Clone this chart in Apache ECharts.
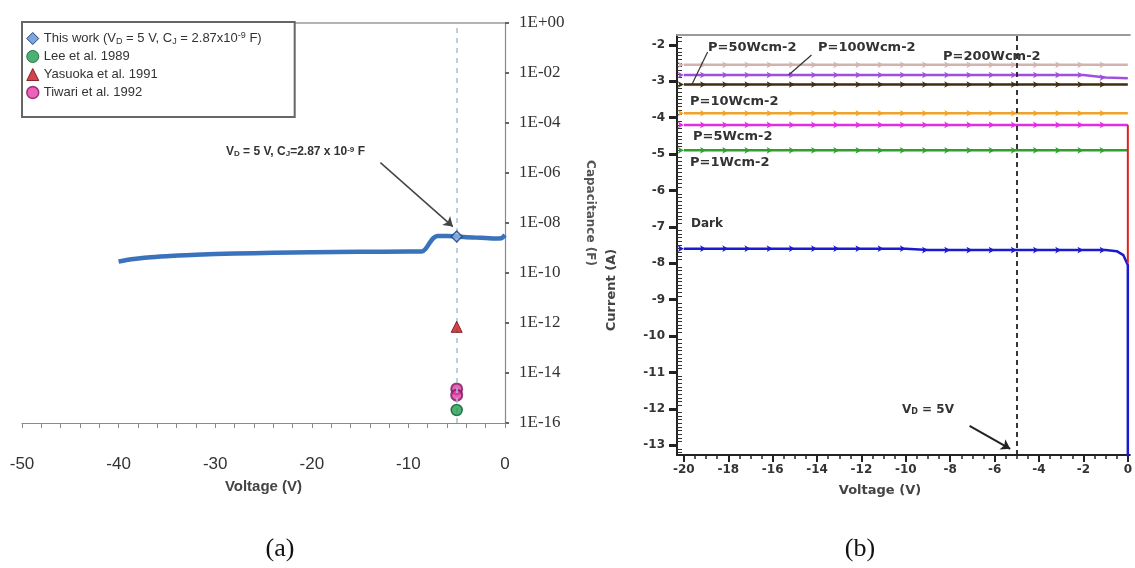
<!DOCTYPE html>
<html>
<head>
<meta charset="utf-8">
<script src="https://cdn.jsdelivr.net/npm/echarts@6.0.0/dist/echarts.min.js"></script>
<style>
html,body{margin:0;padding:0;background:#ffffff;}
#chart{width:1135px;height:568px;}
</style>
</head>
<body>
<div id="chart"></div>
<script>
// ===== Panel (a): capacitance vs voltage =====
const capVoltage = [-40,-39,-38,-37,-35,-32,-28,-24,-20,-15,-10,-8.6,-8.2,-7.8,-7.4,-7,-6,-5,-4,-3,-2,-1,-0.4,0];
const capThisWork = [2.9e-10,3.4e-10,3.8e-10,4.2e-10,4.7e-10,5.4e-10,6.0e-10,6.4e-10,6.7e-10,7.0e-10,7.2e-10,7.3e-10,9.5e-10,1.6e-9,2.5e-9,3.0e-9,3.05e-9,2.87e-9,2.7e-9,2.6e-9,2.5e-9,2.4e-9,2.45e-9,3.3e-9];
const markerVoltage = -5;
const leeCap = [3.3e-16];
const yasuokaCap = [7.0e-13];
const tiwariCap = [2.3e-15, 1.3e-15];
const capTickValues = [1,1e-2,1e-4,1e-6,1e-8,1e-10,1e-12,1e-14,1e-16];
const capTickLabels = ['1E+00','1E-02','1E-04','1E-06','1E-08','1E-10','1E-12','1E-14','1E-16'];

// ===== Panel (b): current (log A) vs voltage =====
const ivVoltage = [-20,-19,-18,-17,-16,-15,-14,-13,-12,-11,-10,-9,-8,-7,-6,-5,-4,-3,-2,-1,0];
const iP200 = [-2.55,-2.55,-2.55,-2.55,-2.55,-2.55,-2.55,-2.55,-2.55,-2.55,-2.55,-2.55,-2.55,-2.55,-2.55,-2.55,-2.55,-2.55,-2.55,-2.55,-2.55];
const iP100 = [-2.83,-2.83,-2.83,-2.83,-2.83,-2.83,-2.83,-2.83,-2.83,-2.83,-2.83,-2.83,-2.83,-2.83,-2.83,-2.83,-2.83,-2.83,-2.83,-2.9,-2.92];
const iP50  = [-3.09,-3.09,-3.09,-3.09,-3.09,-3.09,-3.09,-3.09,-3.09,-3.09,-3.09,-3.09,-3.09,-3.09,-3.09,-3.09,-3.09,-3.09,-3.09,-3.09,-3.09];
const iP10  = [-3.88,-3.88,-3.88,-3.88,-3.88,-3.88,-3.88,-3.88,-3.88,-3.88,-3.88,-3.88,-3.88,-3.88,-3.88,-3.88,-3.88,-3.88,-3.88,-3.88,-3.88];
const iP5   = [-4.2,-4.2,-4.2,-4.2,-4.2,-4.2,-4.2,-4.2,-4.2,-4.2,-4.2,-4.2,-4.2,-4.2,-4.2,-4.2,-4.2,-4.2,-4.2,-4.2,-4.2];
const iP1   = [-4.9,-4.9,-4.9,-4.9,-4.9,-4.9,-4.9,-4.9,-4.9,-4.9,-4.9,-4.9,-4.9,-4.9,-4.9,-4.9,-4.9,-4.9,-4.9,-4.9,-4.9];
const darkVoltage = [-20,-19,-18,-17,-16,-15,-14,-13,-12,-11,-10,-9,-8,-7,-6,-5,-4,-3,-2,-1,-0.5,-0.2,0,0];
const darkCurrent = [-7.6,-7.6,-7.6,-7.6,-7.6,-7.6,-7.6,-7.6,-7.6,-7.6,-7.6,-7.64,-7.64,-7.64,-7.64,-7.64,-7.64,-7.64,-7.64,-7.64,-7.67,-7.78,-8.05,-14];
const dropVoltage = [0, 0];
const dropCurrent = [-4.2, -8.0];
const voltTicksB = [-20,-18,-16,-14,-12,-10,-8,-6,-4,-2,0];
const currentTicksB = [-13,-12,-11,-10,-9,-8,-7,-6,-5,-4,-3,-2];
const dashVoltageB = -5;

// minor tick positions (axis decoration only)
const minorXB = [];
for (let k = -40; k <= 0; k++) { if (k % 4 !== 0) minorXB.push(k / 2); }
const minorYB = [];
for (let k = -132; k <= -18; k++) { if (k % 10 !== 0) minorYB.push(k / 10); }

const NARROW = "'Liberation Sans Narrow','Arial Narrow','Liberation Sans',sans-serif";
const SERIF = "'Liberation Serif','Times New Roman',serif";
const DV = "'DejaVu Sans',Verdana,sans-serif";

const chart = echarts.init(document.getElementById('chart'), null, {renderer: 'canvas'});

function ivLine(name, xs, ys, color, extra) {
  return Object.assign({
    name: name, type: 'line', xAxisIndex: 2, yAxisIndex: 1,
    data: xs.map((x, i) => (x > -1 ? {value: [x, ys[i]], symbol: 'none'} : [x, ys[i]])),
    symbol: 'arrow', symbolRotate: -90, symbolSize: [5, 6], showAllSymbol: true,
    lineStyle: {color: color, width: 2.5}, itemStyle: {color: color}, z: 3
  }, extra || {});
}

const markerCap = capThisWork[capVoltage.indexOf(markerVoltage)];
const noZero = {onZero: false};

const option = {
  animation: false,
  backgroundColor: '#ffffff',
  grid: [
    {left: 22, right: 630, top: 23, bottom: 145},
    {left: 677, right: 0, top: 35, bottom: 113}
  ],
  legend: {
    left: 22, top: 22, orient: 'vertical',
    backgroundColor: '#ffffff', borderColor: '#666', borderWidth: 2,
    padding: [9, 33, 17, 4], itemGap: 3, itemWidth: 12, itemHeight: 12,
    textStyle: {fontFamily: NARROW, fontSize: 13, color: '#333', lineHeight: 15,
      rich: {
        sub: {fontFamily: NARROW, fontSize: 9, color: '#333', verticalAlign: 'bottom', lineHeight: 9},
        sup: {fontFamily: NARROW, fontSize: 9, color: '#333', verticalAlign: 'top', lineHeight: 9}
      }},
    formatter: function (n) {
      return n === 'This work' ? 'This work (V{sub|D} = 5 V, C{sub|J} = 2.87x10{sup|-9} F)' : n;
    },
    data: [
      {name: 'This work', icon: 'diamond', itemStyle: {color: '#7ea6da', borderColor: '#1f3f7f', borderWidth: 1}},
      {name: 'Lee et al. 1989', icon: 'circle', itemStyle: {color: '#1f9f50', borderColor: '#0c5a2c', borderWidth: 1}},
      {name: 'Yasuoka et al. 1991', icon: 'triangle', itemStyle: {color: '#c8161e', borderColor: '#6a0a0a', borderWidth: 1}},
      {name: 'Tiwari et al. 1992', icon: 'circle', itemStyle: {color: '#e83aa8', borderColor: '#7a1a60', borderWidth: 1.5}}
    ]
  },
  xAxis: [
    {gridIndex: 0, type: 'value', min: -50, max: 0, interval: 10, position: 'bottom',
      axisLine: {onZero: false, lineStyle: {color: '#8a8a8a', width: 1.2}},
      axisTick: {length: 5, lineStyle: {color: '#8a8a8a'}},
      minorTick: {show: true, splitNumber: 5, length: 5, lineStyle: {color: '#8a8a8a'}},
      splitLine: {show: false},
      axisLabel: {margin: 33, color: '#333', fontSize: 17, fontFamily: NARROW},
      name: 'Voltage (V)', nameLocation: 'middle', nameGap: 56,
      nameTextStyle: {fontFamily: NARROW, fontWeight: 'bold', fontSize: 15, color: '#444'}},
    {gridIndex: 0, type: 'value', min: -50, max: 0, position: 'top',
      axisLine: {onZero: false, lineStyle: {color: '#9a9a9a', width: 1.5}},
      axisTick: {show: false}, axisLabel: {show: false}, splitLine: {show: false}},
    {gridIndex: 1, type: 'value', min: -20.31, max: 0.09, position: 'bottom',
      axisLine: {onZero: false, lineStyle: {color: '#222', width: 2}},
      axisTick: {customValues: voltTicksB, length: 7, lineStyle: {color: '#222', width: 2}},
      axisLabel: {customValues: voltTicksB, margin: 9, color: '#333', fontSize: 12, fontWeight: 'bold', fontFamily: DV},
      splitLine: {show: false}},
    {gridIndex: 1, type: 'value', min: -20.31, max: 0.09, position: 'bottom',
      axisLine: {show: false, onZero: false},
      axisTick: {customValues: minorXB, length: 4, lineStyle: {color: '#222', width: 1.5}},
      axisLabel: {show: false}, splitLine: {show: false}},
    {gridIndex: 1, type: 'value', min: -20.31, max: 0.09, position: 'top',
      axisLine: {onZero: false, lineStyle: {color: '#9a9a9a', width: 2}},
      axisTick: {show: false}, axisLabel: {show: false}, splitLine: {show: false}}
  ],
  yAxis: [
    {gridIndex: 0, type: 'log', logBase: 10, min: 1e-16, max: 1, position: 'right',
      axisLine: {show: true, onZero: false, lineStyle: {color: '#8a8a8a', width: 1.2}},
      axisTick: {show: true, customValues: capTickValues, length: 4, lineStyle: {color: '#666', width: 2}},
      axisLabel: {customValues: capTickValues, margin: 14, color: '#333', fontSize: 17, fontFamily: SERIF,
        formatter: function (v) {
          const i = capTickValues.findIndex(t => Math.abs(Math.log10(t) - Math.log10(v)) < 1e-6);
          return i >= 0 ? capTickLabels[i] : '';
        }},
      splitLine: {show: false}},
    {gridIndex: 1, type: 'value', min: -13.27, max: -1.73, position: 'left',
      axisLine: {onZero: false, lineStyle: {color: '#222', width: 2}},
      axisTick: {customValues: currentTicksB, length: 8, lineStyle: {color: '#222', width: 3}},
      axisLabel: {customValues: currentTicksB, margin: 12, color: '#333', fontSize: 12, fontWeight: 'bold', fontFamily: DV},
      splitLine: {show: false}},
    {gridIndex: 1, type: 'value', min: -13.27, max: -1.73, position: 'left',
      axisLine: {show: false, onZero: false},
      axisTick: {customValues: minorYB, inside: true, length: 5, lineStyle: {color: '#333', width: 1}},
      axisLabel: {show: false}, splitLine: {show: false}}
  ],
  series: [
    {name: 'This work', type: 'line', xAxisIndex: 0, yAxisIndex: 0, smooth: 0.3, symbol: 'none',
      data: capVoltage.map((v, i) => [v, capThisWork[i]]),
      lineStyle: {color: '#3a72bb', width: 4.5}, itemStyle: {color: '#3a72bb'}, z: 3,
      markLine: {silent: true, animation: false, symbol: ['none', 'arrow'], symbolSize: 9,
        lineStyle: {color: '#444', width: 1.5, type: 'solid'}, label: {show: false},
        data: [[{coord: [-12.9, 2.6e-6]}, {coord: [-5.4, 7.2e-9]}]]}},
    {name: 'This work', type: 'scatter', xAxisIndex: 0, yAxisIndex: 0, symbol: 'diamond', symbolSize: 11,
      data: [[markerVoltage, markerCap]],
      itemStyle: {color: '#8db3e2', borderColor: '#1f3f7f', borderWidth: 1.5}, z: 5},
    {name: 'Tiwari et al. 1992', type: 'scatter', xAxisIndex: 0, yAxisIndex: 0, symbol: 'circle', symbolSize: 11,
      data: tiwariCap.map(c => [markerVoltage, c]),
      itemStyle: {color: '#e83aa8', borderColor: '#7a1a60', borderWidth: 2}, z: 4},
    {name: 'Lee et al. 1989', type: 'scatter', xAxisIndex: 0, yAxisIndex: 0, symbol: 'circle', symbolSize: 11,
      data: leeCap.map(c => [markerVoltage, c]),
      itemStyle: {color: '#1f9f50', borderColor: '#0c5a2c', borderWidth: 1.5}, z: 5,
      markLine: {silent: true, animation: false, symbol: 'none',
        lineStyle: {color: '#a9bfcf', width: 1.5, type: [5, 5]}, label: {show: false},
        data: [{xAxis: markerVoltage}]}},
    {name: 'Yasuoka et al. 1991', type: 'scatter', xAxisIndex: 0, yAxisIndex: 0, symbol: 'triangle', symbolSize: 11,
      data: yasuokaCap.map(c => [markerVoltage, c]),
      itemStyle: {color: '#c8161e', borderColor: '#6a0a0a', borderWidth: 1}, z: 5},

    ivLine('P=200Wcm-2', ivVoltage, iP200, '#d3b3ae'),
    ivLine('P=100Wcm-2', ivVoltage, iP100, '#a04ee0', {
      markLine: {silent: true, animation: false, symbol: 'none', lineStyle: {color: '#333', width: 1.2, type: 'solid'},
        label: {show: false}, data: [[{coord: [-14.25, -2.28]}, {coord: [-15.28, -2.83]}]]}}),
    ivLine('P=50Wcm-2', ivVoltage, iP50, '#3f2e10', {
      markLine: {silent: true, animation: false, symbol: 'none', lineStyle: {color: '#333', width: 1.2, type: 'solid'},
        label: {show: false}, data: [[{coord: [-18.93, -2.2]}, {coord: [-19.64, -3.09]}]]}}),
    ivLine('P=10Wcm-2', ivVoltage, iP10, '#f0a22a'),
    ivLine('P=5Wcm-2', ivVoltage, iP5, '#e22ee0'),
    ivLine('P=1Wcm-2', ivVoltage, iP1, '#2ea02e', {
      markLine: {silent: true, animation: false, symbol: ['none', 'arrow'], symbolSize: 9,
        lineStyle: {color: '#222', width: 2, type: 'solid'}, label: {show: false},
        data: [[{coord: [-7.13, -12.47]}, {coord: [-5.3, -13.1]}]]}}),
    ivLine('Dark', darkVoltage, darkCurrent, '#1a1ad0', {
      markLine: {silent: true, animation: false, symbol: 'none',
        lineStyle: {color: '#222', width: 1.8, type: [5, 4]}, label: {show: false},
        data: [{xAxis: dashVoltageB}]}}),
    {name: 'drop', type: 'line', xAxisIndex: 2, yAxisIndex: 1, symbol: 'none',
      data: dropVoltage.map((x, i) => [x, dropCurrent[i]]),
      lineStyle: {color: '#e02020', width: 2}, z: 4}
  ],
  graphic: [
    {type: 'text', x: 226, y: 152, style: {text: 'V{sub|D} = 5 V, C{sub|J}=2.87 x 10{sup|-9} F', fill: '#333',
      fontFamily: NARROW, fontSize: 12, fontWeight: 'bold', align: 'left', verticalAlign: 'middle',
      rich: {sub: {fontFamily: NARROW, fontSize: 8, fontWeight: 'bold', fill: '#333', verticalAlign: 'bottom', lineHeight: 8},
             sup: {fontFamily: NARROW, fontSize: 8, fontWeight: 'bold', fill: '#333', verticalAlign: 'top', lineHeight: 8}}}},
    {type: 'text', x: 590, y: 213, rotation: -Math.PI / 2,
      style: {text: 'Capacitance (F)', fill: '#555', fontFamily: DV, fontSize: 12, fontWeight: 'bold', align: 'center', verticalAlign: 'middle'}},
    {type: 'text', x: 612, y: 290, rotation: Math.PI / 2,
      style: {text: 'Current (A)', fill: '#444', fontFamily: DV, fontSize: 13, fontWeight: 'bold', align: 'center', verticalAlign: 'middle'}},
    {type: 'text', x: 880, y: 491, style: {text: 'Voltage (V)', fill: '#444', fontFamily: DV, fontSize: 13, fontWeight: 'bold', align: 'center', verticalAlign: 'middle'}},
    {type: 'text', x: 708, y: 48, style: {text: 'P=50Wcm-2', fill: '#333', fontFamily: DV, fontSize: 13, fontWeight: 'bold', align: 'left', verticalAlign: 'middle'}},
    {type: 'text', x: 818, y: 48, style: {text: 'P=100Wcm-2', fill: '#333', fontFamily: DV, fontSize: 13, fontWeight: 'bold', align: 'left', verticalAlign: 'middle'}},
    {type: 'text', x: 943, y: 57, style: {text: 'P=200Wcm-2', fill: '#333', fontFamily: DV, fontSize: 13, fontWeight: 'bold', align: 'left', verticalAlign: 'middle'}},
    {type: 'text', x: 690, y: 102, style: {text: 'P=10Wcm-2', fill: '#333', fontFamily: DV, fontSize: 13, fontWeight: 'bold', align: 'left', verticalAlign: 'middle'}},
    {type: 'text', x: 693, y: 137, style: {text: 'P=5Wcm-2', fill: '#333', fontFamily: DV, fontSize: 13, fontWeight: 'bold', align: 'left', verticalAlign: 'middle'}},
    {type: 'text', x: 690, y: 163, style: {text: 'P=1Wcm-2', fill: '#333', fontFamily: DV, fontSize: 13, fontWeight: 'bold', align: 'left', verticalAlign: 'middle'}},
    {type: 'text', x: 691, y: 224, style: {text: 'Dark', fill: '#333', fontFamily: DV, fontSize: 12, fontWeight: 'bold', align: 'left', verticalAlign: 'middle'}},
    {type: 'text', x: 902, y: 410, style: {text: 'V{sub|D} = 5V', fill: '#333', fontFamily: DV, fontSize: 12, fontWeight: 'bold', align: 'left', verticalAlign: 'middle',
      rich: {sub: {fontFamily: DV, fontSize: 8, fontWeight: 'bold', fill: '#333', verticalAlign: 'bottom', lineHeight: 8}}}},
    {type: 'text', x: 280, y: 549, style: {text: '(a)', fill: '#111', fontFamily: SERIF, fontSize: 26, align: 'center', verticalAlign: 'middle'}},
    {type: 'text', x: 860, y: 549, style: {text: '(b)', fill: '#111', fontFamily: SERIF, fontSize: 26, align: 'center', verticalAlign: 'middle'}}
  ]
};
chart.setOption(option);
</script>
</body>
</html>
